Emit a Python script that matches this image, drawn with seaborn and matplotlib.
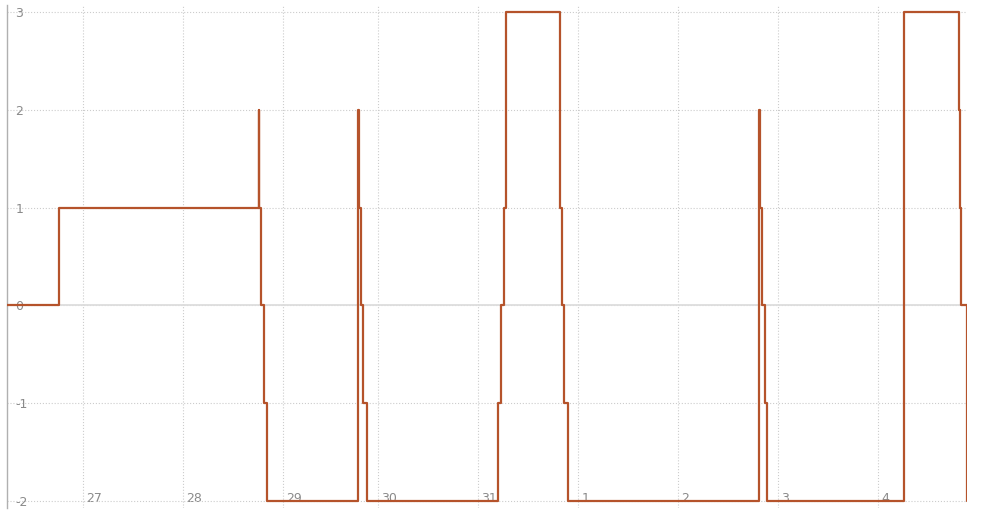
import numpy as np
import pandas as pd
import seaborn as sns
import matplotlib.pyplot as plt
from matplotlib.transforms import ScaledTranslation

# hours counted from the start of day 27 (day 29 is a 23 hour day)
hours = [-18.2, -5.75, 42.25, 42.35, 42.8, 43.5, 44.2,
         66.25, 66.35, 66.8, 67.4, 68.2,
         99.8, 100.45, 101.1, 101.7, 101.75,
         114.55, 114.6, 115.1, 115.65, 116.5,
         162.5, 162.6, 163.3, 163.9, 164.5,
         197.4, 210.6, 210.65, 211.1, 212.45]
levels = [0, 1, 2, 1, 0, -1, -2,
          2, 1, 0, -1, -2,
          -1, 0, 1, 2, 3,
          2, 1, 0, -1, -2,
          2, 1, 0, -1, -2,
          3, 2, 1, 0, -2]

day_ticks = [0, 24, 48, 71, 95, 119, 143, 167, 191]
day_labels = ['27', '28', '29', '30', '31', '1', '2', '3', '4']
y_ticks = [-2, -1, 0, 1, 2, 3]


def main():
    df = pd.DataFrame({'hour': hours, 'level': levels})

    sns.set_style('white')
    plt.rcParams['font.family'] = ['DejaVu Sans']

    fig = plt.figure(figsize=(9.87, 5.16), dpi=100)
    ax = fig.add_axes([7 / 987, 8 / 516, 960 / 987, 503 / 516])

    sns.lineplot(data=df, x='hour', y='level', ax=ax, estimator=None,
                 drawstyle='steps-post', color='#b5532b', linewidth=1.6,
                 zorder=3)

    ax.set_xlim(hours[0], hours[-1])
    ax.set_ylim(-2.07, 3.07)

    # grid
    ax.grid(True, linestyle=':', color='#cccccc', linewidth=0.8)
    ax.axhline(0, color='#dddddd', linewidth=1.3, zorder=2)

    for side in ['top', 'right', 'bottom']:
        ax.spines[side].set_visible(False)
    ax.spines['left'].set_color('#b0b0b0')
    ax.spines['left'].set_linewidth(1.0)

    ax.set_yticks(y_ticks)
    ax.set_yticklabels([str(v) for v in y_ticks])
    ax.tick_params(axis='y', direction='in', length=3, width=0.8,
                   color='#b0b0b0', pad=-6, labelsize=9, labelcolor='#8a8a8a')
    for lab in ax.get_yticklabels():
        lab.set_horizontalalignment('left')

    ax.set_xticks(day_ticks)
    ax.set_xticklabels(day_labels)
    ax.tick_params(axis='x', direction='in', length=0, pad=-2,
                   labelsize=9, labelcolor='#8a8a8a')
    shift = ScaledTranslation(2.3 / 72, 0, fig.dpi_scale_trans)
    for lab in ax.get_xticklabels():
        lab.set_horizontalalignment('left')
        lab.set_verticalalignment('bottom')
        lab.set_transform(lab.get_transform() + shift)

    ax.set_xlabel('')
    ax.set_ylabel('')

    fig.savefig('out.png', dpi=100)


if __name__ == "__main__":
    main()
